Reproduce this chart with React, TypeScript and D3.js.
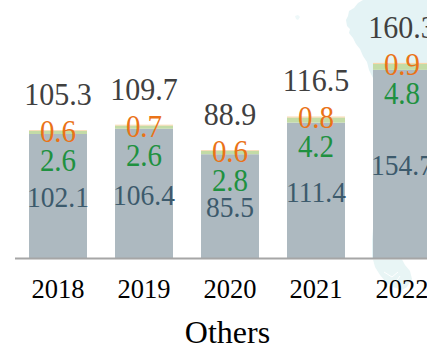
import React from "react";
import * as d3 from "d3";

const years = ["2018", "2019", "2020", "2021", "2022"];
const baseValues = [102.1, 106.4, 85.5, 111.4, 154.7];
const greenValues = [2.6, 2.6, 2.8, 4.2, 4.8];
const orangeValues = [0.6, 0.7, 0.6, 0.8, 0.9];
const totals = [105.3, 109.7, 88.9, 116.5, 160.3];
const groupTitle = "Others";

const WIDTH = 427;
const HEIGHT = 345;
const BASELINE = 258.5;
const SERIF = "'Liberation Serif', 'Times New Roman', serif";
const LABEL_STRETCH = 1.08;

// Pale landmass silhouettes sitting behind the bars.
const LAND_TOP =
  "M363,0 L358,3 L354,8 L349,11 L348,16 L346,20 L347,26 L350,29 L349,33 L353,38 L356,44 L360,49 L363,56 L367,62 L369,70 L373,78 L427,78 L427,0 Z";
const LAND_SLIVER = "M373,228 L372,240 L372,258 L373,258 Z";
const LAND_BOTTOM =
  "M373,259.5 L375,267 L380,275 L386,282 L393,287 L402,290 L407,287 L412,279 L410,271 L405,265 L402,259.5 Z";
const LAND_SPECK = "M295,16 L298,15 L300,17 L298,20 L296,19 Z";

// Draws a value label slightly taller than the font's natural proportions.
function ValueLabel(props: { x: number; y: number; size: number; fill: string; text: string }) {
  return (
    <text
      transform={`translate(${props.x},${props.y}) scale(1,${LABEL_STRETCH})`}
      fontSize={props.size}
      fill={props.fill}
      textAnchor="middle"
    >
      {props.text}
    </text>
  );
}

export default function App() {
  const x = d3
    .scaleBand<string>()
    .domain(years)
    .range([15, 445])
    .paddingInner(28 / 86)
    .paddingOuter(14 / 86);
  const y = d3.scaleLinear().domain([0, 160.3]).range([BASELINE, 63]);

  const stack = d3
    .stack<number>()
    .keys(["base", "green", "orange"])
    .value((i, key) =>
      key === "base" ? baseValues[i] : key === "green" ? greenValues[i] : orangeValues[i]
    )(years.map((_, i) => i));
  const fills = ["#adb9c0", "#c3dba6", "#f8d5a8"];

  const band = x.bandwidth();

  return (
    <svg
      width={WIDTH}
      height={HEIGHT}
      viewBox={`0 0 ${WIDTH} ${HEIGHT}`}
      style={{ position: "absolute", left: 0, top: 0, background: "#fff" }}
      fontFamily={SERIF}
    >
      <path d={LAND_TOP} fill="#e4f3f5" />
      <path d={LAND_SLIVER} fill="#e4f3f5" />
      <path d={LAND_BOTTOM} fill="#e8f5f5" />
      <path d="M384,272 L392,277 L398,272 M395,283 L400,276" stroke="#fff" strokeWidth={1} fill="none" />
      <path d={LAND_SPECK} fill="#eef8f9" />

      {stack.map((series, si) =>
        series.map((d, i) => (
          <rect
            key={`${si}-${i}`}
            x={x(years[i])}
            y={y(d[1])}
            width={band}
            height={y(d[0]) - y(d[1])}
            fill={fills[si]}
          />
        ))
      )}

      <line x1={15} x2={WIDTH} y1={BASELINE} y2={BASELINE} stroke="#a6a6a6" strokeWidth={2} />

      {years.map((year, i) => {
        const cx = (x(year) as number) + band / 2;
        const top = y(totals[i]);
        return (
          <g key={year}>
            <ValueLabel x={cx} y={top - 25} size={30} fill="#404040" text={totals[i].toFixed(1)} />
            <ValueLabel x={cx} y={y(baseValues[i] / 2) + 11} size={27.5} fill="#3c5a6c" text={baseValues[i].toFixed(1)} />
            <ValueLabel x={cx} y={top + 41} size={29} fill="#1f9140" text={greenValues[i].toFixed(1)} />
            <ValueLabel x={cx} y={top + 12} size={29} fill="#ea7317" text={orangeValues[i].toFixed(1)} />
            <text x={cx} y={298} fontSize={26.5} fill="#000" textAnchor="middle">
              {year}
            </text>
          </g>
        );
      })}

      <text x={227.5} y={342.5} fontSize={32} textAnchor="middle" fill="#000">
        {groupTitle}
      </text>
    </svg>
  );
}
